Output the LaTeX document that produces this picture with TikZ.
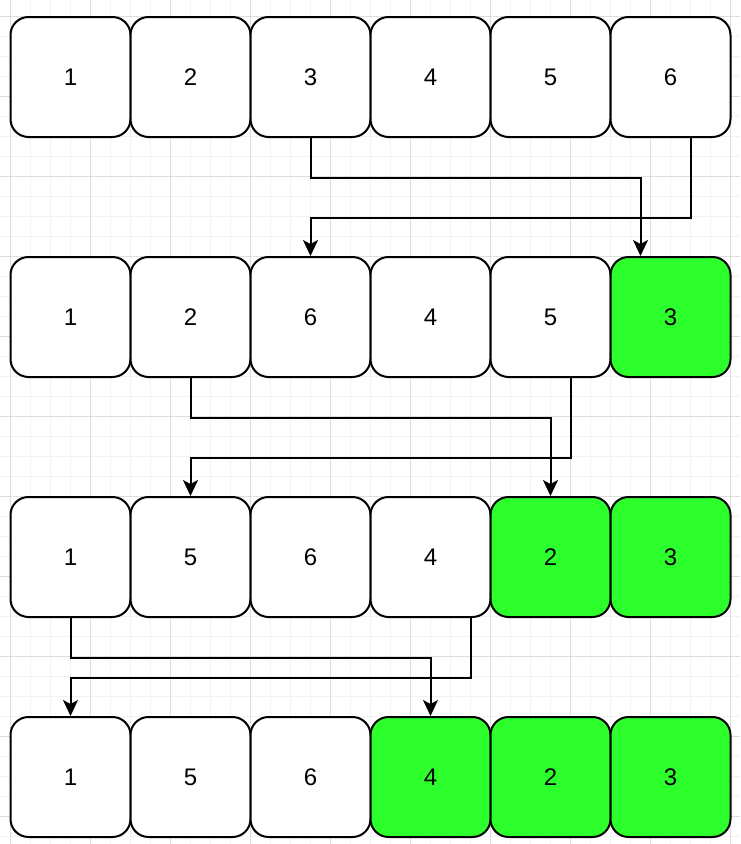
\documentclass[tikz,border=0pt]{standalone}
\usepackage{fontspec}
\setmainfont{Liberation Sans}
\usetikzlibrary{arrows.meta}
\definecolor{sortedgreen}{RGB}{44,255,44}
\definecolor{gridminor}{RGB}{242,242,242}
\definecolor{gridmajor}{RGB}{222,222,222}
\begin{document}
\begin{tikzpicture}[x=1pt,y=-1pt,
  cell/.style={draw,line width=2pt,rounded corners=18pt,fill=white,
    minimum width=120pt,minimum height=120pt,inner sep=0pt,
    font=\fontsize{24}{28}\selectfont},
  done/.style={cell,fill=sortedgreen},
  swap/.style={line width=2pt,->},
  >={Stealth[length=16pt,width=15pt,inset=4pt]}]
\useasboundingbox (0,0) rectangle (740,844);
\fill[white] (0,0) rectangle (740,844);
\foreach \x in {10,30,...,730} \draw[gridminor,line width=1pt] (\x,0) -- (\x,844);
\foreach \y in {16,36,...,836} \draw[gridminor,line width=1pt] (0,\y) -- (740,\y);
\foreach \x in {10,90,...,730} \draw[gridmajor,line width=1pt] (\x,0) -- (\x,844);
\foreach \y in {16,96,...,836} \draw[gridmajor,line width=1pt] (0,\y) -- (740,\y);

\foreach \v/\s [count=\i] in {1/cell,2/cell,3/cell,4/cell,5/cell,6/cell}
  \node[\s] (a\i) at (120*\i-49.5,77) {\v};
\foreach \v/\s [count=\i] in {1/cell,2/cell,6/cell,4/cell,5/cell,3/done}
  \node[\s] (b\i) at (120*\i-49.5,317) {\v};
\foreach \v/\s [count=\i] in {1/cell,5/cell,6/cell,4/cell,2/done,3/done}
  \node[\s] (c\i) at (120*\i-49.5,557) {\v};
\foreach \v/\s [count=\i] in {1/cell,5/cell,6/cell,4/done,2/done,3/done}
  \node[\s] (d\i) at (120*\i-49.5,777) {\v};

\draw[swap] (a3.south) -- ++(0,40) -| ([xshift=-30pt]b6.north);
\draw[swap] ([xshift=20pt]a6.south) -- ++(0,80) -| (b3.north);

\draw[swap] (b2.south) -- ++(0,40) -| (c5.north);
\draw[swap] ([xshift=20pt]b5.south) -- ++(0,80) -| (c2.north);

\draw[swap] (c1.south) -- ++(0,40) -| (d4.north);
\draw[swap] ([xshift=40pt]c4.south) -- ++(0,60) -| (d1.north);

\end{tikzpicture}
\end{document}
